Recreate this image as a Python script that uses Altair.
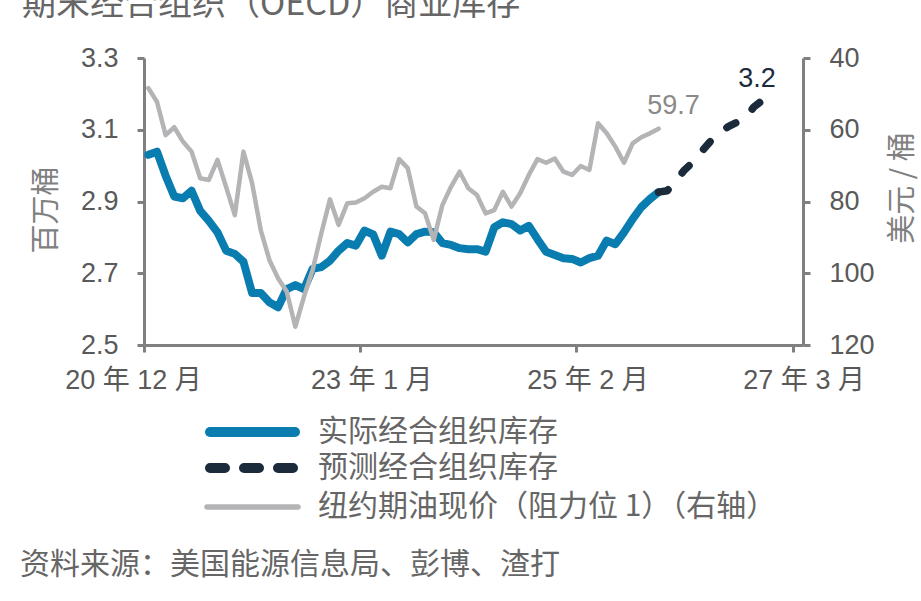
import altair as alt
import pandas as pd

# ---- data -----------------------------------------------------------------
months = pd.date_range("2020-12-01", periods=73, freq="MS").strftime("%Y-%m").tolist()

# OECD commercial stocks, billion barrels (monthly, 2020-12 .. 2025-11)
actual_stock = [
    3.030, 3.039, 2.972, 2.914, 2.909, 2.930, 2.874, 2.846, 2.814, 2.763,
    2.754, 2.732, 2.645, 2.645, 2.619, 2.605, 2.656, 2.667, 2.656, 2.712,
    2.717, 2.735, 2.763, 2.784, 2.777, 2.819, 2.808, 2.749, 2.816, 2.809,
    2.786, 2.809, 2.816, 2.814, 2.784, 2.779, 2.770, 2.767, 2.767, 2.760,
    2.828, 2.842, 2.837, 2.819, 2.832, 2.795, 2.760, 2.751, 2.742, 2.740,
    2.730, 2.742, 2.749, 2.791, 2.781, 2.814, 2.851, 2.884, 2.907, 2.926,
]
# forecast stocks (2025-11 .. 2026-12)
forecast_stock = [
    2.926, 2.930, 2.958, 2.988, 3.010, 3.040, 3.068, 3.088, 3.108, 3.120,
    3.132, 3.163, 3.182, 3.200,
]
# WTI front-month price, USD/bbl (2020-12 .. 2025-11)
wti_price = [
    48.4, 52.2, 61.5, 59.3, 63.3, 66.1, 73.5, 74.0, 68.4, 76.0,
    83.8, 66.1, 74.9, 88.0, 96.3, 101.4, 105.1, 114.9, 106.5, 99.1,
    88.9, 79.4, 86.5, 80.5, 80.3, 79.1, 77.3, 75.9, 76.3, 68.2,
    70.7, 81.4, 83.3, 90.7, 81.0, 75.9, 71.7, 76.3, 78.2, 83.3,
    82.4, 77.3, 81.4, 77.7, 72.6, 68.2, 69.2, 68.0, 71.7, 72.6,
    70.1, 71.2, 58.2, 61.0, 64.7, 69.2, 63.8, 62.1, 61.0, 59.7,
]

tick_months = [0, 25, 50, 75]
tick_labels = ["20 年 12 月", "23 年 1 月", "25 年 2 月", "27 年 3 月"]
left_ticks = [2.5, 2.7, 2.9, 3.1, 3.3]
right_ticks = [40, 60, 80, 100, 120]

legend_names = ["实际经合组织库存", "预测经合组织库存", "纽约期油现价（阻力位 1）（右轴）"]
title_text = "期末经合组织（OECD）商业库存"
left_title = "百万桶"
right_title = "美元 / 桶"
source_text = "资料来源：美国能源信息局、彭博、渣打"

# ---- tables ---------------------------------------------------------------
def mid(i):
    return i + 0.5  # each monthly value sits in the middle of its month

actual_df = pd.DataFrame({"月份": months[:60], "位置": [mid(i) for i in range(60)], "库存": actual_stock})
forecast_df = pd.DataFrame({"月份": months[59:73], "位置": [mid(i) for i in range(59, 73)], "库存": forecast_stock})
price_df = pd.DataFrame({"月份": months[:60], "位置": [mid(i) for i in range(60)], "油价": wti_price})

# ---- style ----------------------------------------------------------------
BLUE = "#0a7db0"
NAVY = "#1b2b3c"
GREY_LINE = "#b4b4b6"
AXIS = "#808080"
LABEL = "#595959"
LATIN = "Liberation Sans, Noto Sans CJK SC"
CJK = "Noto Sans CJK SC"

W, H = 659, 287

labels_js = "[" + ",".join(f"'{t}'" for t in tick_labels) + "]"
values_js = "[" + ",".join(str(v) for v in tick_months) + "]"

x_enc = alt.X(
    "位置:Q",
    scale=alt.Scale(domain=[0, 76.2], nice=False, zero=False),
    axis=alt.Axis(
        values=tick_months,
        labelExpr=f"{labels_js}[indexof({values_js}, datum.value)]",
        title=None, grid=False,
        domainColor=AXIS, domainWidth=3,
        tickColor=AXIS, tickWidth=3, tickSize=7,
        labelFont=LATIN, labelFontSize=27, labelColor=LABEL,
        labelPadding=15, labelFlush=False, labelOverlap=False, labelBound=False,
        labelOffset={"condition": {"test": "datum.value == 0", "value": -11}, "value": 11},
    ),
)

def y_axis(vals, orient, fmt=None):
    kw = dict(
        values=vals, orient=orient, title=None, grid=False,
        domainColor=AXIS, domainWidth=3,
        tickColor=AXIS, tickWidth=3, tickSize=7,
        labelFont=LATIN, labelFontSize=27, labelColor=LABEL,
        labelPadding=19, labelOverlap=False, labelFlush=False,
    )
    if fmt:
        kw["format"] = fmt
    return alt.Axis(**kw)

y_left = alt.Y("库存:Q", scale=alt.Scale(domain=[2.5, 3.3], nice=False, zero=False),
               axis=y_axis(left_ticks, "left", ".1f"))
y_right = alt.Y("油价:Q", scale=alt.Scale(domain=[40, 120], reverse=True, nice=False, zero=False),
                axis=y_axis(right_ticks, "right"))

# ---- stock lines (left axis) ----------------------------------------------
actual_line = alt.Chart(actual_df).mark_line(
    color=BLUE, strokeWidth=8, strokeJoin="round", strokeCap="round"
).encode(x=x_enc, y=y_left)

forecast_line = alt.Chart(forecast_df).mark_line(
    color=NAVY, strokeWidth=7.5, strokeDash=[10, 22], strokeCap="round", strokeJoin="round"
).encode(x=x_enc, y=y_left)

forecast_label = alt.Chart(forecast_df.iloc[[-1]]).mark_text(
    font=LATIN, fontSize=27, color=NAVY, align="center", baseline="alphabetic", dx=-14, dy=-7
).encode(x=x_enc, y=y_left, text=alt.Text("库存:Q", format=".1f"))

left = alt.layer(actual_line, forecast_line, forecast_label)

# ---- price line (right axis) ----------------------------------------------
price_line = alt.Chart(price_df).mark_line(
    color=GREY_LINE, strokeWidth=4.5, strokeJoin="round", strokeCap="round"
).encode(x=x_enc, y=y_right)

price_label = alt.Chart(price_df.iloc[[-1]]).mark_text(
    font=LATIN, fontSize=27, color="#8a8a8a", align="center", baseline="alphabetic", dx=15, dy=-15
).encode(x=x_enc, y=y_right, text=alt.Text("油价:Q", format=".1f"))

right = alt.layer(price_line, price_label)

# ---- titles, legend, source -----------------------------------------------
one = alt.Data(values=[{}])
OX, OY = 144, 58  # plot origin inside the page


def text_at(txt, px, py, size=30, color="#666666", font=CJK, align="left",
            baseline="middle", angle=None):
    kw = dict(text=txt, font=font, fontSize=size, color=color, align=align, baseline=baseline)
    if angle is not None:
        kw["angle"] = angle
    return alt.Chart(one).mark_text(**kw).encode(x=alt.value(px - OX), y=alt.value(py - OY))


decor = [
    text_at(title_text, 22, 15, size=34, baseline="alphabetic"),
    text_at(left_title, 47, 210, size=29, color="#808080", align="center", angle=270),
    text_at(right_title, 903, 188, size=29, color="#808080", align="center", angle=270),
    text_at(source_text, 20, 565, size=30),
]

legend_rows = [432, 468, 507]
legend_marks = [
    dict(color=BLUE, strokeWidth=10, strokeCap="round", x1=210, x2=295),
    dict(color=NAVY, strokeWidth=10, strokeCap="round", strokeDash=[15, 19], x1=210, x2=295),
    dict(color=GREY_LINE, strokeWidth=5.5, strokeCap="round", x1=207, x2=298),
]
for name, row, spec in zip(legend_names, legend_rows, legend_marks):
    spec = dict(spec)
    x1, x2 = spec.pop("x1"), spec.pop("x2")
    decor.append(
        alt.Chart(one).mark_rule(**spec).encode(
            x=alt.value(x1 - OX), x2=alt.value(x2 - OX), y=alt.value(row - OY)
        )
    )
    decor.append(text_at(name, 318, row, size=30))

chart = (
    alt.layer(left, right, *decor)
    .resolve_scale(y="independent")
    .properties(
        width=W, height=H,
        autosize=alt.AutoSizeParams(type="none"),
        padding={"left": OX, "top": OY, "right": 921 - OX - W, "bottom": 601 - OY - H},
        background="white",
    )
    .configure_view(stroke=None)
)

chart.save("out.html", embed_options={"renderer": "svg", "actions": False})
